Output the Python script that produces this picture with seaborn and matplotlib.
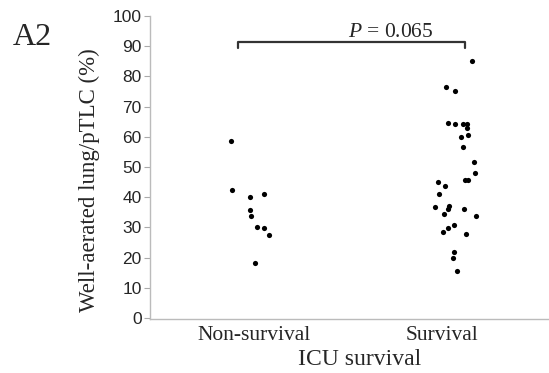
import matplotlib
matplotlib.use("Agg")
import matplotlib.pyplot as plt
import seaborn as sns
import pandas as pd

# ---- data ----
categories = ["Non-survival", "Survival"]
nonsurv_values = [58.7, 42.5, 40.1, 41.0, 35.8, 33.8, 30.2, 29.8, 27.5, 18.2]
nonsurv_offsets = [-0.095, -0.089, 0.002, 0.069, 0.003, 0.007, 0.038, 0.072, 0.098, 0.025]
surv_values = [85.2, 76.6, 75.1, 64.6, 64.3, 64.1, 64.2, 62.8, 60.0, 60.5, 56.5,
               51.6, 48.0, 45.7, 45.7, 45.1, 43.8, 41.1, 36.8, 37.0, 36.1, 36.1,
               34.4, 33.9, 30.9, 29.7, 28.6, 27.7, 21.8, 19.9, 15.6]
surv_offsets = [0.113, -0.015, 0.030, -0.005, 0.030, 0.067, 0.087, 0.088, 0.058, 0.093, 0.067,
                0.125, 0.130, 0.077, 0.093, -0.055, -0.020, -0.053, -0.070, 0.000, -0.007, 0.073,
                -0.028, 0.135, 0.025, -0.008, -0.033, 0.085, 0.022, 0.018, 0.038]
y_ticks = [0, 10, 20, 30, 40, 50, 60, 70, 80, 90, 100]
p_label = "$\\mathit{P}$ = 0.065"

rows = []
for i, (vals, offs) in enumerate([(nonsurv_values, nonsurv_offsets), (surv_values, surv_offsets)]):
    for v, o in zip(vals, offs):
        rows.append({"group": categories[i], "x": i + o, "value": v})
df = pd.DataFrame(rows)

sns.set_style("white")
plt.rcParams["font.family"] = ["Liberation Serif", "DejaVu Serif"]
plt.rcParams["mathtext.fontset"] = "custom"
plt.rcParams["mathtext.it"] = "Liberation Serif:italic"
plt.rcParams["mathtext.rm"] = "Liberation Serif"

fig = plt.figure(figsize=(5.49, 3.73), dpi=100)
ax = fig.add_axes([150 / 549, 1 - 319 / 373, 399 / 549, 303 / 373])

sns.scatterplot(data=df, x="x", y="value", color="black", s=14, linewidth=0,
                legend=False, ax=ax)

ax.set_xlim(-0.5, 1.5)
ax.set_ylim(-0.3, 100)
ax.set_yticks(y_ticks)
ax.set_yticklabels([str(t) for t in y_ticks], family="Liberation Sans", fontsize=12.5)
ax.set_xticks([0.02, 0.965])
ax.set_xticklabels(categories, fontsize=15.5)
ax.tick_params(axis="x", length=0, pad=5)
ax.tick_params(axis="y", length=4, width=0.8, color="#aaaaaa", pad=2, left=True)

for s in ["top", "right"]:
    ax.spines[s].set_visible(False)
for s in ["left", "bottom"]:
    ax.spines[s].set_color("#bbbbbb")
    ax.spines[s].set_linewidth(1.0)

ax.set_xlabel("ICU survival", fontsize=17)
ax.xaxis.set_label_coords(0.526, -0.098)
ax.set_ylabel("Well-aerated lung/pTLC (%)", fontsize=16.5)
ax.yaxis.set_label_coords(-0.125, 0.459)

# significance bracket
x0, x1, yb, yd = -0.06, 1.08, 91.5, 89.4
ax.plot([x0, x0, x1, x1], [yd, yb, yb, yd], color="#333333", lw=1.6, clip_on=False)
ax.text(0.705, 93.0, p_label, ha="center", va="baseline", fontsize=15.5)

fig.text(13 / 549, 1 - 45 / 373, "A2", fontsize=23, ha="left", va="baseline")

fig.savefig("out.png", dpi=100)
